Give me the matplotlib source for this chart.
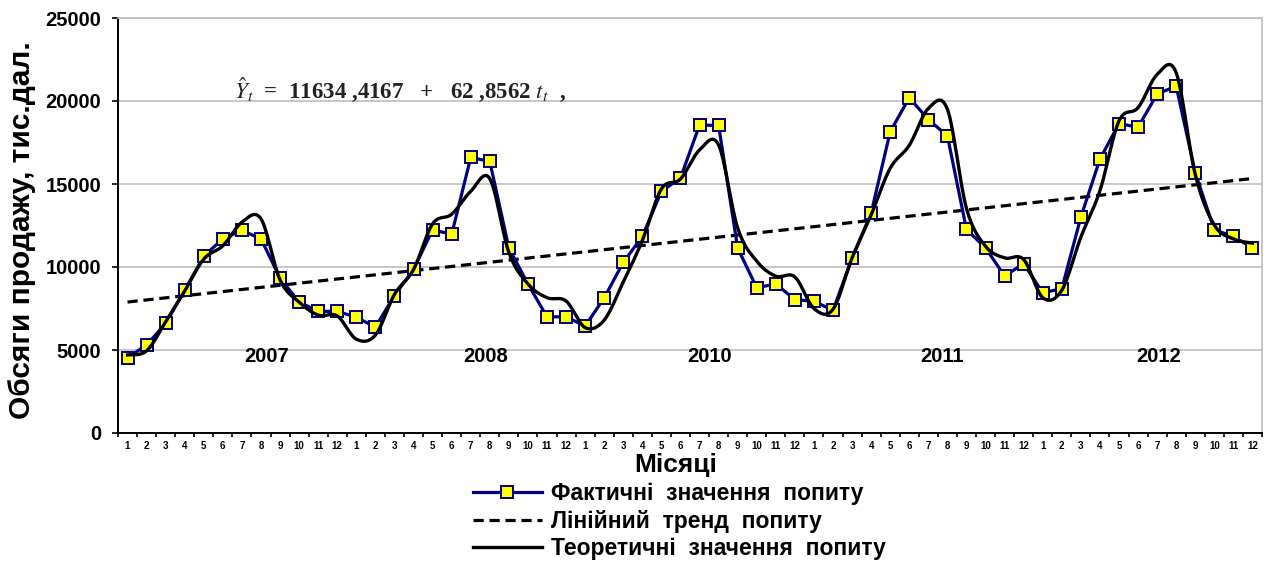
import numpy as np
import matplotlib
matplotlib.use("Agg")
import matplotlib.pyplot as plt
from matplotlib.ticker import MultipleLocator, FixedLocator

plt.rcParams['font.family'] = ['Liberation Sans', 'DejaVu Sans']
plt.rcParams['mathtext.fontset'] = 'stix'

# ---------------------------------------------------------------------------
# data (monthly, 5 years)
# ---------------------------------------------------------------------------
month_labels = list(range(1, 13)) * 5

actual = [
    4540, 5300, 6600, 8600, 10650, 11700, 12200, 11700, 9320, 7890, 7330, 7330,
    6970, 6380, 8280, 9850, 12240, 11970, 16600, 16360, 11140, 8980, 7000, 7000,
    6440, 8140, 10280, 11840, 14560, 15360, 18550, 18530, 11140, 8750, 8980, 8030,
    7940, 7390, 10520, 13250, 18150, 20200, 18880, 17900, 12260, 11150, 9460, 10200,
    8450, 8690, 13010, 16500, 18640, 18420, 20420, 20900, 15660, 12240, 11840, 11140,
]

theoretical = [
    4700, 4950, 6700, 8560, 10480, 11280, 12700, 12900, 9220, 7890, 7100, 7050,
    5650, 5900, 8350, 9850, 12600, 13180, 14560, 15320, 10880, 8980, 8150, 7950,
    6350, 6800, 9100, 11600, 14700, 15300, 17050, 17350, 12350, 10350, 9450, 9400,
    7500, 7450, 10550, 13140, 15950, 17330, 19550, 19500, 13530, 11250, 10550, 10450,
    8150, 8600, 11800, 14600, 18800, 19600, 21600, 21700, 15570, 12530, 11690, 11440,
]

trend_ends = [7890, 15330]   # linear trend at first and last month

years = ['2007', '2008', '2010', '2011', '2012']
year_x = [7.3, 18.8, 30.5, 42.7, 54.1]
year_y = 4600

equation = r"$\hat{Y}_t$  =  11634 ,4167   +   62 ,8562 $t_t$  ,"


def smooth(xs, ys, n=16):
    # Excel-style smoothed line (Catmull-Rom / Bezier with 1/6 control points)
    xs = np.asarray(xs, float)
    ys = np.asarray(ys, float)
    px = np.concatenate([[xs[0]], xs, [xs[-1]]])
    py = np.concatenate([[ys[0]], ys, [ys[-1]]])
    t = np.linspace(0, 1, n, endpoint=False)
    out_x, out_y = [], []
    for i in range(1, len(px) - 2):
        x0, x1, x2, x3 = px[i - 1], px[i], px[i + 1], px[i + 2]
        y0, y1, y2, y3 = py[i - 1], py[i], py[i + 1], py[i + 2]
        c1x, c1y = x1 + (x2 - x0) / 6, y1 + (y2 - y0) / 6
        c2x, c2y = x2 - (x3 - x1) / 6, y2 - (y3 - y1) / 6
        b0, b1, b2, b3 = (1 - t) ** 3, 3 * t * (1 - t) ** 2, 3 * t ** 2 * (1 - t), t ** 3
        out_x.append(b0 * x1 + b1 * c1x + b2 * c2x + b3 * x2)
        out_y.append(b0 * y1 + b1 * c1y + b2 * c2y + b3 * y2)
    out_x.append([xs[-1]])
    out_y.append([ys[-1]])
    return np.concatenate(out_x), np.concatenate(out_y)


x = np.arange(len(actual))

fig = plt.figure(figsize=(12.67, 5.68), dpi=100)
ax = fig.add_axes([118 / 1267, 1 - 433 / 568, 1144 / 1267, 415 / 568])

ax.plot([x[0], x[-1]], trend_ends, color='black', linestyle=(0, (3.2, 1.8)),
        linewidth=2.3, label='Лінійний  тренд  попиту', zorder=3)
ax.plot(x, actual, color='#000080', linewidth=2.3, marker='s', markersize=8,
        markerfacecolor='#FFFF00', markeredgecolor='#000080', markeredgewidth=1.4,
        label='Фактичні  значення  попиту', zorder=4)
sx, sy = smooth(x, theoretical)
ax.plot(sx, sy, color='black', linewidth=2.4,
        label='Теоретичні  значення  попиту', zorder=5)

for yr, xp in zip(years, year_x):
    ax.text(xp, year_y, yr, ha='center', va='center', fontsize=14.5,
            fontweight='bold', zorder=6)

ax.text(5.6, 20700, equation, ha='left', va='center', fontsize=16.5,
        fontweight='bold', family='Liberation Serif', color='#222222', zorder=6)

ax.set_xlim(-0.5, len(actual) - 0.5)
ax.set_ylim(0, 25000)
ax.yaxis.set_major_locator(MultipleLocator(5000))
ax.grid(axis='y', color='#BDBDBD', linewidth=1.2, zorder=0)
ax.set_axisbelow(True)

ax.xaxis.set_major_locator(FixedLocator(x))
ax.set_xticklabels([str(m) for m in month_labels], fontsize=7, fontweight='bold')
ax.xaxis.set_minor_locator(FixedLocator(np.arange(-0.5, len(actual), 1.0)))
ax.tick_params(axis='x', which='major', length=0, pad=6)
ax.tick_params(axis='x', which='minor', length=3, width=1.2, direction='out')
ax.tick_params(axis='y', which='major', length=4, width=1.2, direction='out',
               labelsize=14.5, pad=8)
for lab in ax.get_yticklabels():
    lab.set_fontweight('bold')

for side in ['left', 'bottom']:
    ax.spines[side].set_linewidth(1.4)
    ax.spines[side].set_color('black')
for side in ['top', 'right']:
    ax.spines[side].set_linewidth(1.2)
    ax.spines[side].set_color('#BDBDBD')

ax.set_xlabel('Місяці', fontsize=19, fontweight='bold')
ax.xaxis.set_label_coords((676 - 118) / 1144, -0.077)
ax.xaxis.label.set_va('center')
ax.set_ylabel('Обсяги продажу, тис.дал.', fontsize=21.5, fontweight='bold')
ax.yaxis.set_label_coords((22 - 118) / 1144, 0.49)
ax.yaxis.label.set_va('center')

handles, labels = ax.get_legend_handles_labels()
order = [1, 0, 2]
fig.legend([handles[i] for i in order], [labels[i] for i in order],
           loc='upper left', bbox_to_anchor=(473 / 1267, 1 - 482 / 568),
           frameon=False, prop={'weight': 'bold', 'size': 16.5},
           handlelength=3.0, handletextpad=0.4, labelspacing=0.2,
           borderpad=0, borderaxespad=0)

fig.savefig('out.png', dpi=100)
